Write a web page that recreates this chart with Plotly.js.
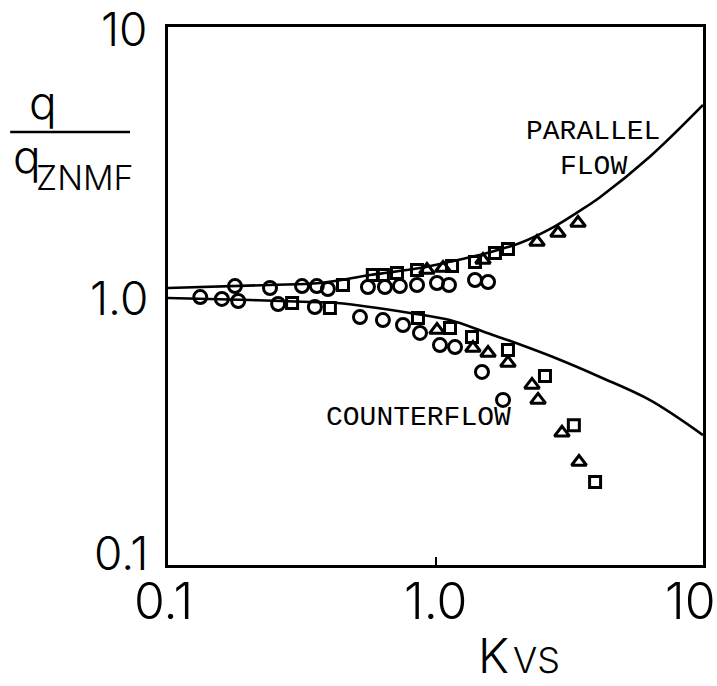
<!DOCTYPE html>
<html>
<head>
<meta charset="utf-8">
<script src="https://cdn.plot.ly/plotly-3.0.1.min.js"></script>
<style>html,body{margin:0;padding:0;background:#fff;}#chart{width:717px;height:686px;}</style>
</head>
<body>
<div id="chart"></div>
<script>
// ---- Data ----
const upperK = [0.1, 0.24, 0.37, 0.57, 0.875, 1.13, 1.56, 2.07, 2.75, 3.4, 4.12, 6.34, 10];
const upperQ = [1.071, 1.099, 1.118, 1.197, 1.27, 1.34, 1.445, 1.574, 1.80, 2.05, 2.33, 3.3, 5.13];
const lowerK = [0.1, 0.2025, 0.34, 0.429, 0.803, 1.13, 1.56, 2.07, 2.75, 4.12, 6.34, 10];
const lowerQ = [0.983, 0.966, 0.950, 0.942, 0.865, 0.814, 0.729, 0.66, 0.593, 0.50, 0.41, 0.304];

const circleK = [0.178, 0.2406, 0.317, 0.360, 0.396, 0.559, 0.647, 0.736, 0.853, 1.013, 1.123, 1.405, 1.572,
                 0.132, 0.159, 0.183, 0.258, 0.354, 0.522, 0.636, 0.756, 0.875, 1.039, 1.183, 1.492, 1.788];
const circleQ = [1.089, 1.071, 1.089, 1.089, 1.062, 1.080, 1.080, 1.089, 1.099, 1.118, 1.099, 1.147, 1.127,
                 0.991, 0.975, 0.958, 0.934, 0.910, 0.835, 0.814, 0.780, 0.729, 0.657, 0.646, 0.522, 0.411];
const squareK = [0.451, 0.583, 0.636, 0.718, 0.853, 1.153, 1.405, 1.668, 1.866,
                 0.291, 0.403, 0.860, 1.133, 1.369, 1.866, 2.566, 3.29, 3.95];
const squareQ = [1.099, 1.197, 1.197, 1.218, 1.249, 1.293, 1.338, 1.445, 1.495,
                 0.942, 0.903, 0.828, 0.760, 0.704, 0.630, 0.504, 0.331, 0.2035];
const triangleK = [0.929, 1.067, 1.505, 2.396, 2.87, 3.41,
                   1.013, 1.380, 1.572, 1.866, 2.295, 2.417, 2.97, 3.44];
const triangleQ = [1.249, 1.271, 1.361, 1.588, 1.715, 1.868,
                   0.747, 0.641, 0.614, 0.564, 0.467, 0.411, 0.310, 0.2415];

const xTickVals = [0.1, 1, 10];
const xTickText = ['0.1', '1.0', '10'];
const yTickVals = [0.1, 1, 10];
const yTickText = ['0.1', '1.0', '10'];

const labelParallel = 'PARALLEL';
const labelFlow = 'FLOW';
const labelCounter = 'COUNTERFLOW';

// ---- Styles ----
const numFont = {family: 'Inter, "Open Sans", sans-serif', size: 46, color: '#000', weight: 300};
const monoFont = {family: '"Liberation Mono", "DejaVu Sans Mono", monospace', size: 28, color: '#000'};
const mk = (sym, size) => ({symbol: sym, size: size, color: '#000', line: {color: '#000', width: 3}});

const traces = [
  {x: upperK, y: upperQ, mode: 'lines', line: {color: '#000', width: 2.6, shape: 'spline'}, hoverinfo: 'skip'},
  {x: lowerK, y: lowerQ, mode: 'lines', line: {color: '#000', width: 2.6, shape: 'spline'}, hoverinfo: 'skip'},
  {x: circleK, y: circleQ, mode: 'markers', marker: mk('circle-open', 13)},
  {x: squareK, y: squareQ, mode: 'markers', marker: mk('square-open', 11)},
  {x: triangleK, y: triangleQ, mode: 'markers', marker: mk('triangle-up-open', 13)}
];

const xShift = [-5, 0, -13];
const yShift = [12, -2, -2];
const annotations = [];
xTickVals.forEach((v, i) => annotations.push({
  xref: 'x', yref: 'paper', x: Math.log10(v), y: -0.067, text: xTickText[i], showarrow: false,
  xanchor: 'center', yanchor: 'middle', xshift: xShift[i], font: Object.assign({}, numFont, {size: 50})
}));
yTickVals.forEach((v, i) => annotations.push({
  xref: 'paper', yref: 'y', x: -0.034, y: Math.log10(v), text: yTickText[i], showarrow: false,
  xanchor: 'right', yanchor: 'middle', yshift: yShift[i], font: numFont
}));
annotations.push(
  {xref: 'x', yref: 'y', x: 0.589, y: 0.61, text: labelParallel, showarrow: false, font: monoFont},
  {xref: 'x', yref: 'y', x: 0.589, y: 0.48, text: labelFlow, showarrow: false, font: monoFont},
  {xref: 'x', yref: 'y', x: -0.065, y: -0.4535, text: labelCounter, showarrow: false, font: monoFont},
  // y-axis title: q / q_ZNMF
  {xref: 'paper', yref: 'paper', x: -0.2336, y: 0.86, text: 'q', showarrow: false, xanchor: 'center', yanchor: 'middle',
   font: Object.assign({}, numFont, {size: 46})},
  {xref: 'paper', yref: 'paper', x: -0.263, y: 0.76, text: 'q', showarrow: false, xanchor: 'center', yanchor: 'middle',
   font: Object.assign({}, numFont, {size: 46})},
  {xref: 'paper', yref: 'paper', x: -0.155, y: 0.72, text: 'ZNMF', showarrow: false, xanchor: 'center', yanchor: 'middle',
   font: Object.assign({}, numFont, {size: 34})},
  // x-axis title: K_VS
  {xref: 'paper', yref: 'paper', x: 0.609, y: -0.169, text: 'K', showarrow: false, xanchor: 'center', yanchor: 'middle',
   font: Object.assign({}, numFont, {size: 48})},
  {xref: 'paper', yref: 'paper', x: 0.688, y: -0.176, text: 'VS', showarrow: false, xanchor: 'center', yanchor: 'middle',
   font: Object.assign({}, numFont, {size: 36})}
);

const layout = {
  width: 717, height: 686,
  margin: {l: 168, r: 14, t: 27, b: 121},
  paper_bgcolor: '#fff', plot_bgcolor: '#fff',
  showlegend: false,
  xaxis: {type: 'log', range: [-1, 1], showgrid: false, zeroline: false, showline: true, mirror: true,
          linecolor: '#000', linewidth: 3, tickvals: xTickVals, ticks: 'inside', ticklen: 8, tickwidth: 2,
          tickcolor: '#000', showticklabels: false},
  yaxis: {type: 'log', range: [-1, 1], showgrid: false, zeroline: false, showline: true, mirror: true,
          linecolor: '#000', linewidth: 3, tickvals: yTickVals, ticks: '', showticklabels: false},
  shapes: [{type: 'line', xref: 'paper', yref: 'paper', x0: -0.295, x1: -0.071, y0: 0.805, y1: 0.805,
            line: {color: '#000', width: 2.5}}],
  annotations: annotations
};

Plotly.newPlot('chart', traces, layout, {staticPlot: true, displayModeBar: false});
</script>
</body>
</html>
